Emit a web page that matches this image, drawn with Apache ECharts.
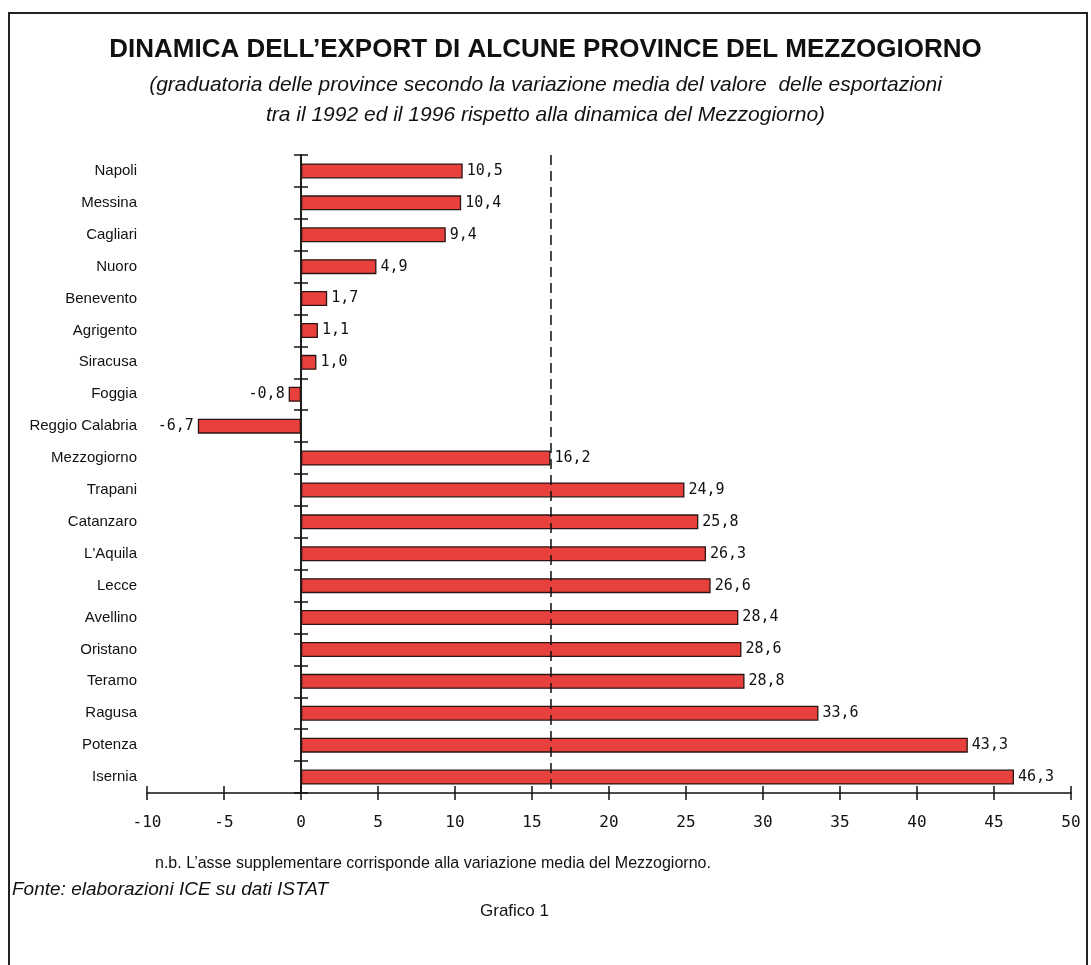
<!DOCTYPE html>
<html>
<head>
<meta charset="utf-8">
<script src="https://cdn.jsdelivr.net/npm/echarts@6/dist/echarts.min.js"></script>
<style>
  html, body { margin: 0; padding: 0; background: #ffffff; }
  #chart { width: 1091px; height: 965px; }
</style>
</head>
<body>
<div id="chart"></div>
<script>
const categories = ['Napoli', 'Messina', 'Cagliari', 'Nuoro', 'Benevento', 'Agrigento', 'Siracusa', 'Foggia', 'Reggio Calabria', 'Mezzogiorno', 'Trapani', 'Catanzaro', "L'Aquila", 'Lecce', 'Avellino', 'Oristano', 'Teramo', 'Ragusa', 'Potenza', 'Isernia'];
const values = [10.5, 10.4, 9.4, 4.9, 1.7, 1.1, 1.0, -0.8, -6.7, 16.2, 24.9, 25.8, 26.3, 26.6, 28.4, 28.6, 28.8, 33.6, 43.3, 46.3];
const mezzogiornoAverage = 16.2;
const xTicks = { min: -10, max: 50, interval: 5 };

const titleText = 'DINAMICA DELL\u2019EXPORT DI ALCUNE PROVINCE DEL MEZZOGIORNO';
const subtitleLine1 = '(graduatoria delle province secondo la variazione media del valore  delle esportazioni';
const subtitleLine2 = 'tra il 1992 ed il 1996 rispetto alla dinamica del Mezzogiorno)';
const noteText = 'n.b. L\u2019asse supplementare corrisponde alla variazione media del Mezzogiorno.';
const sourceText = 'Fonte: elaborazioni ICE su dati ISTAT';
const figureText = 'Grafico 1';

const fmt = v => v.toFixed(1).replace('.', ',');

const chart = echarts.init(document.getElementById('chart'), null, { renderer: 'canvas' });

const gridBox = { left: 147, right: 20, top: 155, bottom: 172 };

const catAxisBase = {
  type: 'category',
  data: categories,
  inverse: true,
  boundaryGap: true
};

const option = {
  backgroundColor: '#ffffff',
  animation: false,
  grid: gridBox,
  title: [
    { text: titleText, left: 'center', top: 32,
      textStyle: { fontFamily: 'Liberation Sans', fontWeight: 'bold', fontSize: 26, color: '#111' } },
    { text: subtitleLine1, left: 'center', top: 70,
      textStyle: { fontFamily: 'Liberation Sans', fontStyle: 'italic', fontWeight: 'normal', fontSize: 21, color: '#111' } },
    { text: subtitleLine2, left: 'center', top: 100,
      textStyle: { fontFamily: 'Liberation Sans', fontStyle: 'italic', fontWeight: 'normal', fontSize: 21, color: '#111' } }
  ],
  graphic: [
    { type: 'rect', shape: { x: 9, y: 13, width: 1078, height: 990 },
      style: { fill: 'none', stroke: '#222', lineWidth: 2 } },
    { type: 'text', left: 155, top: 856,
      style: { text: noteText, font: '16px "Liberation Sans"', fill: '#111' } },
    { type: 'text', left: 12, top: 880,
      style: { text: sourceText, font: 'italic 19px "Liberation Sans"', fill: '#111' } },
    { type: 'text', left: 480, top: 903,
      style: { text: figureText, font: '17px "Liberation Sans"', fill: '#111' } }
  ],
  xAxis: [
    { type: 'value', min: xTicks.min, max: xTicks.max, interval: xTicks.interval, position: 'bottom',
      splitLine: { show: false },
      axisLine: { show: true, onZero: false, lineStyle: { color: '#111', width: 1.5 } },
      axisTick: { show: true, inside: true, length: 7, lineStyle: { color: '#111', width: 1.5 } },
      axisLabel: { margin: 22, fontFamily: 'DejaVu Sans Mono', fontSize: 16, color: '#111' } },
    { type: 'value', min: xTicks.min, max: xTicks.max, interval: xTicks.interval, position: 'bottom',
      splitLine: { show: false },
      axisLine: { show: false, onZero: false },
      axisTick: { show: true, inside: false, length: 7, lineStyle: { color: '#111', width: 1.5 } },
      axisLabel: { show: false } }
  ],
  yAxis: [
    Object.assign({}, catAxisBase, {
      position: 'left',
      axisLine: { show: false, onZero: false },
      axisTick: { show: false },
      axisLabel: { margin: 10, fontFamily: 'Liberation Sans', fontSize: 15, color: '#111' }
    }),
    Object.assign({}, catAxisBase, {
      position: 'left',
      axisLine: { show: true, onZero: true, onZeroAxisIndex: 0, lineStyle: { color: '#111', width: 1.5 } },
      axisTick: { show: true, inside: true, length: 7, lineStyle: { color: '#111', width: 1.5 } },
      axisLabel: { show: false }
    }),
    Object.assign({}, catAxisBase, {
      position: 'left',
      axisLine: { show: true, onZero: true, onZeroAxisIndex: 0, lineStyle: { color: '#111', width: 1.5 } },
      axisTick: { show: true, inside: false, length: 7, lineStyle: { color: '#111', width: 1.5 } },
      axisLabel: { show: false }
    })
  ],
  series: [
    {
      type: 'bar',
      xAxisIndex: 0,
      yAxisIndex: 0,
      barWidth: 15,
      data: values.map(v => ({
        value: v,
        label: { position: v < 0 ? 'left' : 'right' }
      })),
      itemStyle: { color: '#e8403c', borderColor: '#2a1512', borderWidth: 1.3 },
      label: {
        show: true,
        distance: 4,
        formatter: p => fmt(p.value),
        fontFamily: 'DejaVu Sans Mono',
        fontSize: 15,
        color: '#111'
      },
      markLine: {
        silent: true,
        symbol: 'none',
        label: { show: false },
        lineStyle: { color: '#111', type: [10, 6], width: 1.5 },
        data: [{ xAxis: mezzogiornoAverage }]
      },
      z: 3
    }
  ]
};

chart.setOption(option);
</script>
</body>
</html>
